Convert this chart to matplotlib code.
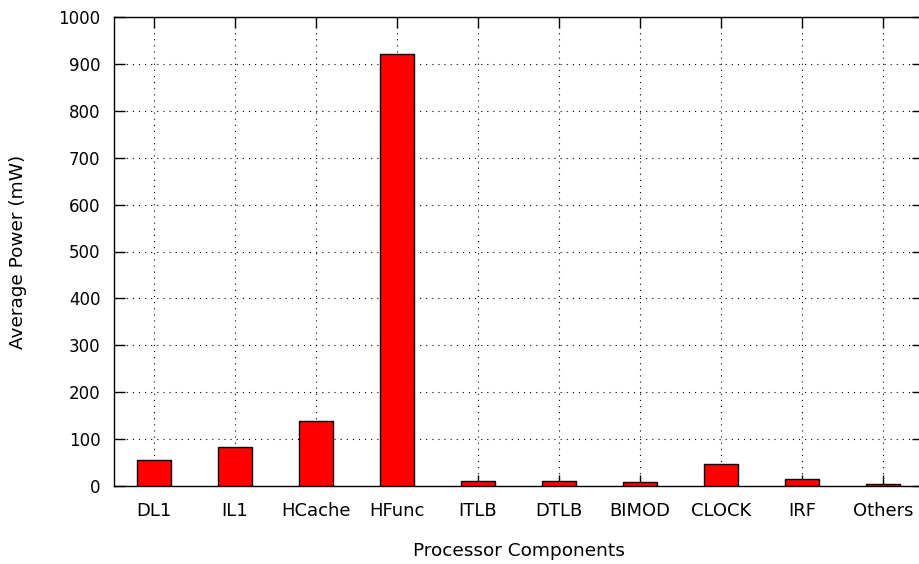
import matplotlib
matplotlib.use("Agg")
import matplotlib.pyplot as plt
import numpy as np

components = ["DL1", "IL1", "HCache", "HFunc", "ITLB", "DTLB", "BIMOD", "CLOCK", "IRF", "Others"]
avg_power_mw = [54, 83, 139, 922, 9, 9, 7, 47, 14, 4]
y_ticks = [0, 100, 200, 300, 400, 500, 600, 700, 800, 900, 1000]

W, H = 919, 564
fig = plt.figure(figsize=(W / 100, H / 100), dpi=100)
plt.rcParams["font.family"] = ["DejaVu Sans"]

# plot frame in pixel units (right border falls just past the canvas)
left, right, top, bottom = 113.5, 923.5, 17.3, 485.7
ax = fig.add_axes([left / W, (H - bottom) / H, (right - left) / W, (bottom - top) / H])

x = np.arange(len(components))
ax.bar(x, avg_power_mw, width=0.41, color="#ff0000", edgecolor="black",
       linewidth=1.0, zorder=3)

ax.set_xlim(-0.5, len(components) - 0.5)
ax.set_ylim(0, 1000)
ax.set_yticks(y_ticks)
ax.set_xticks(x)
ax.set_xticklabels(components, fontsize=13)

grid_style = dict(color="black", linewidth=0.8, linestyle=(0, (1, 4.5)))
ax.grid(True, **grid_style, zorder=0)
ax.set_axisbelow(True)

ax.tick_params(axis="both", direction="in", length=8, width=1.0,
               top=True, right=True, colors="black")
ax.tick_params(axis="y", pad=9.5, labelsize=12)
ax.tick_params(axis="x", pad=11.5)
for s in ax.spines.values():
    s.set_linewidth(1.0)
    s.set_color("black")

ax.set_xlabel("Processor Components", fontsize=13.3)
ax.xaxis.set_label_coords(0.5, (bottom - 551.5) / (bottom - top))
ax.xaxis.label.set_va("center")
ax.set_ylabel("Average Power (mW)", fontsize=13.3)
ax.yaxis.set_label_coords((17.5 - left) / (right - left), 0.5)
ax.yaxis.label.set_va("center")

fig.savefig("out.png", dpi=100)
